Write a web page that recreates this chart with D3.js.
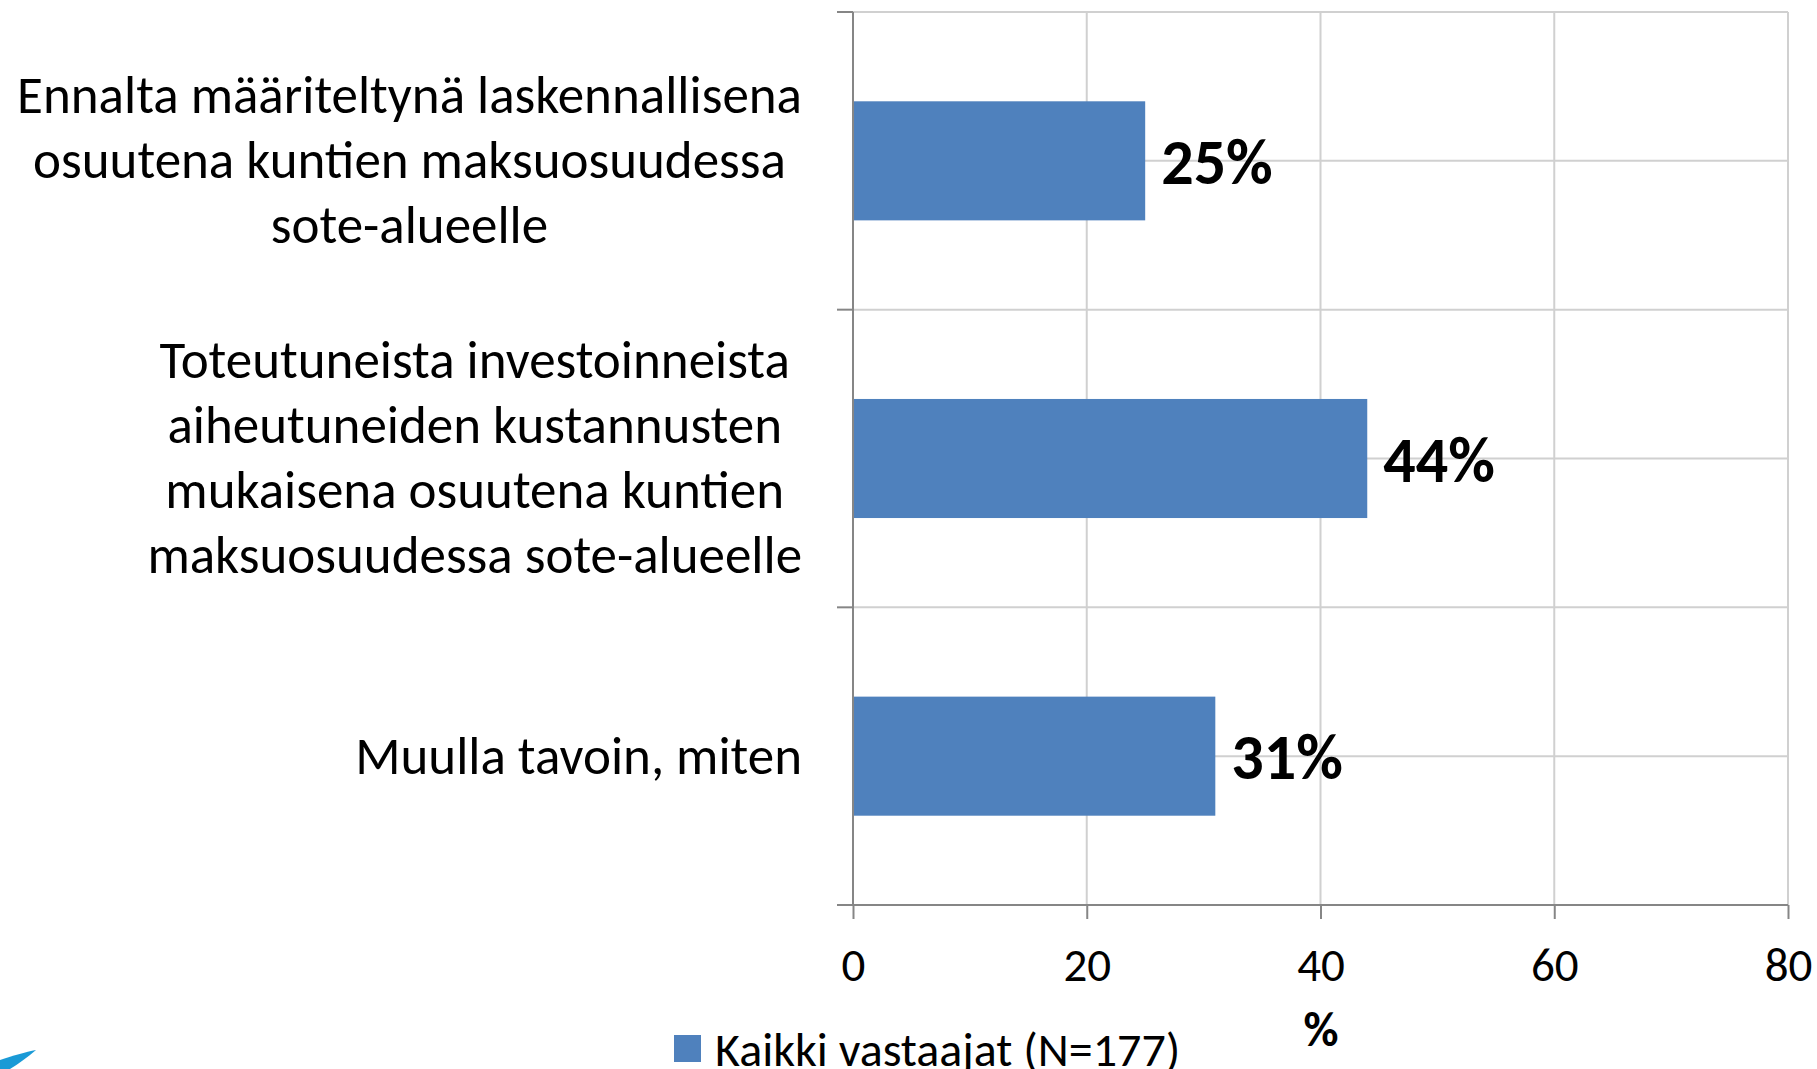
<!DOCTYPE html>
<html>
<head>
<meta charset="utf-8">
<script src="https://cdn.jsdelivr.net/npm/d3@7"></script>
<style>
  html, body { margin: 0; padding: 0; background: #fff; }
  svg { display: block; font-family: Carlito, Calibri, Lato, sans-serif; }
</style>
</head>
<body>
<div id="chart_div"></div>
<script>
// data
const categories = [
  ["Ennalta määriteltynä laskennallisena", "osuutena kuntien maksuosuudessa", "sote-alueelle"],
  ["Toteutuneista investoinneista", "aiheutuneiden kustannusten", "mukaisena osuutena kuntien", "maksuosuudessa sote-alueelle"],
  ["Muulla tavoin, miten"]
]
const values = [25, 44, 31]
const xTicks = [0, 20, 40, 60, 80]
const seriesName = "Kaikki vastaajat (N=177)"
const xTitle = "%"

const barColor = "#4f81bd"
const axisColor = "#868686"
const gridColor = "#d0d0d0"

const width = 1817, height = 1069
const plot = { left: 853, right: 1788, top: 12, bottom: 905 }

const svg = d3.select("#chart_div")
  .append("svg")
  .attr("width", width)
  .attr("height", height)
  .attr("viewBox", `0 0 ${width} ${height}`)

const data = categories.map((c, i) => ({ id: i, lines: c, value: values[i] }))

// x: value -> px
const x = d3.scaleLinear()
  .domain([0, 80])
  .range([plot.left, plot.right])

// y: category band
const y = d3.scaleBand()
  .domain(data.map(d => d.id))
  .range([plot.top, plot.bottom])
  .paddingInner(0.6)
  .paddingOuter(0.3)

const step = y.step()

// vertical gridlines
svg.append("g")
  .selectAll("line")
  .data(xTicks.filter(t => t > 0))
  .join("line")
  .attr("x1", d => x(d)).attr("x2", d => x(d))
  .attr("y1", plot.top).attr("y2", plot.bottom)
  .attr("stroke", gridColor)
  .attr("stroke-width", 2)

// horizontal gridlines (every half category)
svg.append("g")
  .selectAll("line")
  .data(d3.range(0, 6))
  .join("line")
  .attr("x1", plot.left).attr("x2", plot.right)
  .attr("y1", d => plot.top + d * step / 2)
  .attr("y2", d => plot.top + d * step / 2)
  .attr("stroke", gridColor)
  .attr("stroke-width", 2)

// bars
svg.append("g")
  .selectAll("rect")
  .data(data)
  .join("rect")
  .attr("x", x(0))
  .attr("y", d => y(d.id))
  .attr("width", d => x(d.value) - x(0))
  .attr("height", y.bandwidth())
  .attr("fill", barColor)

// x axis
const xAxis = svg.append("g")
  .attr("transform", `translate(0, ${plot.bottom})`)
  .call(d3.axisBottom(x).tickValues(xTicks).tickSize(14).tickPadding(29))
xAxis.select(".domain").remove()
xAxis.append("line")
  .attr("x1", plot.left - 16).attr("x2", plot.right)
  .attr("y1", 0).attr("y2", 0)
  .attr("stroke", axisColor).attr("stroke-width", 2)
xAxis.selectAll(".tick line").attr("stroke", axisColor).attr("stroke-width", 2)
xAxis.selectAll(".tick text")
  .attr("fill", "#000")
  .attr("font-family", "Carlito, Calibri, Lato, sans-serif")
  .attr("font-size", 47)
  .attr("dy", "0.71em")

// y axis line + ticks on category boundaries
svg.append("line")
  .attr("x1", plot.left).attr("x2", plot.left)
  .attr("y1", plot.top).attr("y2", plot.bottom)
  .attr("stroke", axisColor).attr("stroke-width", 2)
svg.append("g")
  .selectAll("line")
  .data(d3.range(0, 4))
  .join("line")
  .attr("x1", plot.left - 16).attr("x2", plot.left)
  .attr("y1", d => plot.top + d * step)
  .attr("y2", d => plot.top + d * step)
  .attr("stroke", axisColor).attr("stroke-width", 2)

// category labels: block right-aligned, lines centred inside the block
const lineH = 65
const labelRight = 802
const labels = svg.append("g")
  .attr("font-size", 53)
  .attr("fill", "#000")
data.forEach(d => {
  const g = labels.append("g")
  const cy = y(d.id) + y.bandwidth() / 2
  const texts = g.selectAll("text")
    .data(d.lines)
    .join("text")
    .attr("text-anchor", "middle")
    .attr("y", (l, i) => cy + (i - (d.lines.length - 1) / 2) * lineH)
    .attr("dy", "0.33em")
    .text(l => l)
  let maxW = 0
  texts.each(function() { maxW = Math.max(maxW, this.getComputedTextLength()) })
  texts.attr("x", labelRight - maxW / 2)
})

// value labels
svg.append("g")
  .selectAll("text")
  .data(data)
  .join("text")
  .attr("x", d => x(d.value) + 16)
  .attr("y", d => y(d.id) + y.bandwidth() / 2)
  .attr("dy", "0.36em")
  .attr("font-size", 64)
  .attr("font-weight", "bold")
  .attr("fill", "#000")
  .text(d => `${d.value}%`)

// axis title
svg.append("text")
  .attr("x", 1321)
  .attr("y", 1029)
  .attr("dy", "0.36em")
  .attr("text-anchor", "middle")
  .attr("font-size", 48)
  .attr("font-weight", "bold")
  .text(xTitle)

// legend
svg.append("rect")
  .attr("x", 674).attr("y", 1035)
  .attr("width", 27).attr("height", 27)
  .attr("fill", barColor)
svg.append("text")
  .attr("x", 715).attr("y", 1049)
  .attr("dy", "0.35em")
  .attr("font-size", 48)
  .text(seriesName)

// logo fragment at the bottom-left corner
svg.append("path")
  .attr("d", "M0,1069 L0,1060 C12,1056 26,1052 36,1050 C28,1057 18,1064 10,1069 Z")
  .attr("fill", "#1a9ad6")
</script>
</body>
</html>
